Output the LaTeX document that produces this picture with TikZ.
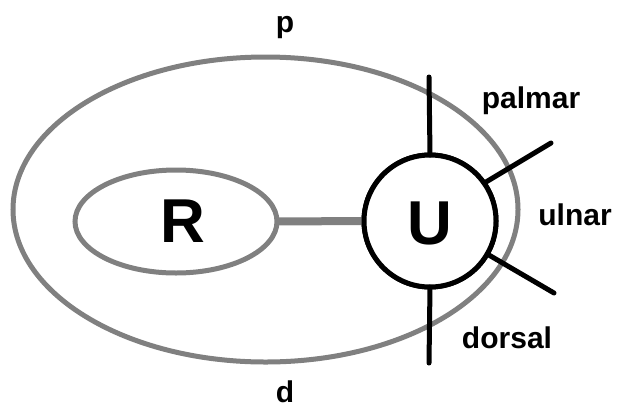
\documentclass[tikz,border=0pt]{standalone}
\usepackage{fontspec}
\setmainfont{Liberation Sans}
\usetikzlibrary{shapes.geometric}
\definecolor{ringgray}{RGB}{128,128,128}
\tikzset{
  ring/.style={draw=ringgray, line width=5pt, ellipse, inner sep=0pt, outer sep=0pt},
  ubox/.style={draw=black, line width=5pt, circle, inner sep=0pt, outer sep=0pt, minimum size=132pt, fill=white},
  spoke/.style={draw=black, line width=5pt, line cap=round},
  link/.style={draw=ringgray, line width=8pt},
  lbl/.style={font=\bfseries\fontsize{30}{30}\selectfont, anchor=base, inner sep=0pt},
  big/.style={font=\bfseries\fontsize{62}{62}\selectfont, anchor=base, inner sep=0pt}
}
\begin{document}
\begin{tikzpicture}[x=1pt,y=-1pt]
\useasboundingbox (0,0) rectangle (617,407);
\node[ring, minimum width=505pt, minimum height=305pt] (outer) at (265.5,209.5) {};
\node[ring, minimum width=202pt, minimum height=103pt] (r) at (176,221.5) {};
\node[ubox] (u) at (430,221) {};
\draw[link] (r.east) -- (u.west);
\node[ubox] (u2) at (430,221) {};
\coordinate (ptop) at (429,77);
\coordinate (pbot) at (429,363);
\coordinate (pup) at (551,143);
\coordinate (plow) at (554,293);
\draw[spoke] (u2.north) -- (ptop);
\draw[spoke] (u2.south) -- (pbot);
\draw[spoke] (u2.35) -- (pup);
\draw[spoke] (u2.-30) -- (plow);
\node[big] (rl) at (183,242) {R};
\node[big] (ul) at (430,244) {U};
\node[lbl] (p) at (285,32) {p};
\node[lbl] (d) at (285,402) {d};
\node[lbl] (palmar) at (531,108) {palmar};
\node[lbl] (ulnar) at (575,225) {ulnar};
\node[lbl] (dorsal) at (507,348) {dorsal};
\end{tikzpicture}
\end{document}
